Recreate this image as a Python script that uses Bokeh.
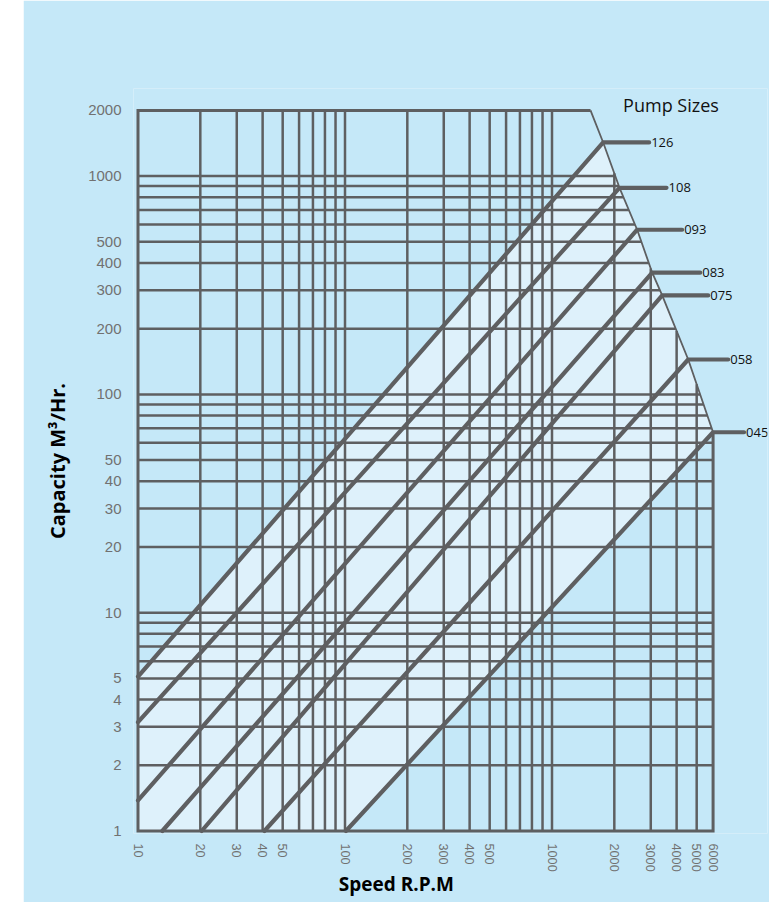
import math
import numpy as np
from bokeh.plotting import figure
from bokeh.models import FixedTicker, NumeralTickFormatter, Spacer, Range1d, Title
from bokeh.layouts import row
from bokeh.core.properties import value
from bokeh.embed import file_html
from bokeh.resources import INLINE

# ---------------- data ----------------
PUMP_SIZES = ["126", "108", "093", "083", "075", "058", "045"]
START_SPEED = [10, 10, 10, 13.1, 20.3, 40.8, 101]          # RPM where each line enters the chart
START_CAPACITY = [5.1, 3.15, 1.38, 1, 1, 1, 1]             # m3/hr at entry
END_SPEED = [1767, 2119, 2579, 3049, 3407, 4550, 6000]     # RPM at max speed
END_CAPACITY = [1426, 884, 568, 361, 284, 144.5, 67.1]     # m3/hr at max speed
TOP_LIMIT_SPEED = 1535                                     # where the limit line meets 2000 m3/hr

SPEED_MIN, SPEED_MAX = 10, 6000
CAP_MIN, CAP_MAX = 1, 2000

X_TICKS = [10, 20, 30, 40, 50, 100, 200, 300, 400, 500, 1000, 2000, 3000, 4000, 5000, 6000]
Y_TICKS = [1, 2, 3, 4, 5, 10, 20, 30, 40, 50, 100, 200, 300, 400, 500, 1000, 2000]
X_GRID = [20, 30, 40, 50, 60, 70, 80, 90, 100, 200, 300, 400, 500, 600, 700, 800, 900,
          1000, 2000, 3000, 4000, 5000]
Y_GRID = [2, 3, 4, 5, 6, 7, 8, 9, 10, 20, 30, 40, 50, 60, 70, 80, 90, 100,
          200, 300, 400, 500, 600, 700, 800, 900, 1000]

# ---------------- layout constants ----------------
BG = "#c5e8f8"
BAND = "#def1fb"
INK = "#5e5f61"
TICK_INK = "#717171"
PXD_X = 207.0     # px per decade, x
PXD_Y = 218.3     # px per decade, y
X10_PX = 137.5    # page px of speed 10
Y1_PX = 830.5     # page px of capacity 1
FIG_LEFT, FIG_TOP = 23, 0
FIG_W, FIG_H = 746, 902
FRAME_L, FRAME_R, FRAME_T, FRAME_B = 133, 767, 88, 833
STUB_PX = [46, 47, 45, 48, 46, 40, 31]


def xdata(px):
    return 10 ** (1 + (px - X10_PX) / PXD_X)


def ydata(py):
    return 10 ** ((Y1_PX - py) / PXD_Y)


p = figure(width=FIG_W, height=FIG_H, x_axis_type="log", y_axis_type="log",
           x_range=Range1d(xdata(FRAME_L), xdata(FRAME_R)),
           y_range=Range1d(ydata(FRAME_B), ydata(FRAME_T)),
           output_backend="svg", toolbar_location=None,
           min_border_left=FRAME_L - FIG_LEFT, min_border_right=FIG_LEFT + FIG_W - FRAME_R,
           min_border_top=FRAME_T - FIG_TOP, min_border_bottom=FIG_TOP + FIG_H - FRAME_B,
           background_fill_color=BG, border_fill_color=BG, outline_line_color=None)
p.grid.visible = False

# limit (boundary) polyline in log space
BXs = [TOP_LIMIT_SPEED] + END_SPEED
BYs = [CAP_MAX] + END_CAPACITY
lbx = np.log10(BXs)
lby = np.log10(BYs)


def top_at(x):
    if x <= TOP_LIMIT_SPEED:
        return CAP_MAX
    return 10 ** np.interp(math.log10(x), lbx, lby)


def right_at(y):
    if y <= END_CAPACITY[-1]:
        return SPEED_MAX
    return 10 ** np.interp(math.log10(y), lby[::-1], lbx[::-1])


# light band between the largest and the smallest pump lines
band_x = [START_SPEED[0], SPEED_MIN, START_SPEED[-1]] + END_SPEED[::-1]
band_y = [START_CAPACITY[0], CAP_MIN, START_CAPACITY[-1]] + END_CAPACITY[::-1]
p.patch(band_x, band_y, fill_color=BAND, line_color=None)

# grid
p.segment(x0=X_GRID, y0=[CAP_MIN] * len(X_GRID), x1=X_GRID, y1=[top_at(x) for x in X_GRID],
          line_color=INK, line_width=2.5)
p.segment(x0=[SPEED_MIN] * len(Y_GRID), y0=Y_GRID, x1=[right_at(y) for y in Y_GRID], y1=Y_GRID,
          line_color=INK, line_width=2.5)

# frame
p.line([TOP_LIMIT_SPEED, SPEED_MIN, SPEED_MIN, SPEED_MAX, SPEED_MAX],
       [CAP_MAX, CAP_MAX, CAP_MIN, CAP_MIN, END_CAPACITY[-1]],
       line_color=INK, line_width=3, line_join="miter")
# limit line
p.line(BXs, BYs, line_color=INK, line_width=1.8)

# pump lines with stubs
xs, ys = [], []
for sx, sy, ex, ey, L in zip(START_SPEED, START_CAPACITY, END_SPEED, END_CAPACITY, STUB_PX):
    xs.append([sx, ex, ex * 10 ** (L / PXD_X)])
    ys.append([sy, ey, ey])
p.multi_line(xs, ys, line_color=INK, line_width=4.2, line_cap="round", line_join="round")

p.text(x=[x[2] for x in xs], y=END_CAPACITY, text=PUMP_SIZES, x_offset=2,
       text_font=value("Open Sans"), text_font_size="13px", text_color="#111111",
       text_align="left", text_baseline="middle")

p.text(x=[xdata(622.6)], y=[ydata(104.5)], text=["Pump Sizes"],
       text_font=value("Open Sans"), text_font_size="18px", text_color="#111111",
       text_align="left", text_baseline="middle")

# axes
for ax, ticks, size, stand in ((p.xaxis, X_TICKS, "12.7px", 10), (p.yaxis, Y_TICKS, "15px", 12)):
    ax.ticker = FixedTicker(ticks=ticks)
    ax.formatter = NumeralTickFormatter(format="0")
    ax.axis_line_color = None
    ax.major_tick_line_color = None
    ax.minor_tick_line_color = None
    ax.major_tick_out = 0
    ax.major_tick_in = 0
    ax.major_label_standoff = stand
    ax.major_label_text_font = "Liberation Sans"
    ax.major_label_text_font_size = size
    ax.major_label_text_color = TICK_INK
p.xaxis.major_label_orientation = "vertical"

p.yaxis.axis_label = "Capacity M³/Hr."
p.yaxis.axis_label_standoff = 14
p.yaxis.axis_label_text_font = "Open Sans"
p.yaxis.axis_label_text_font_style = "bold"
p.yaxis.axis_label_text_font_size = "20px"
p.yaxis.axis_label_text_color = "#000000"

p.add_layout(Title(text="Speed R.P.M", align="left", offset=338.3 - FRAME_L, standoff=-11,
                   text_font="Open Sans", text_font_style="bold", text_font_size="19px",
                   text_color="#000000"), "below")

layout = row(Spacer(width=FIG_LEFT, height=FIG_H), p)
open("out.html", "w").write(file_html(layout, INLINE))
